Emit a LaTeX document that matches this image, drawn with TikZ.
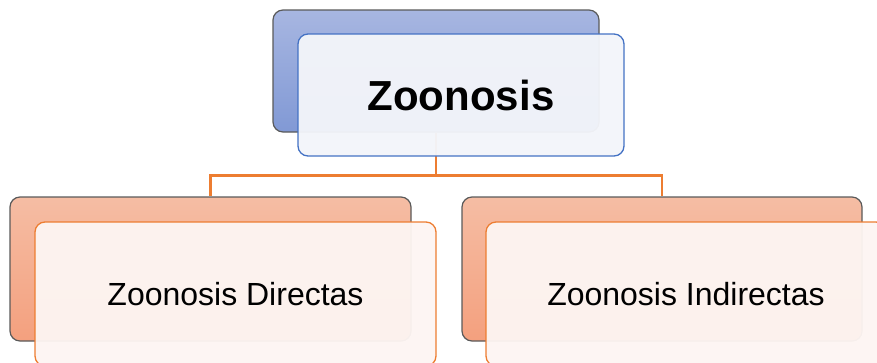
\documentclass[tikz,border=0pt]{standalone}
\usepackage{fontspec}
\setmainfont{Liberation Sans}
\usepackage{tikz}
\usepackage{xcolor}
\usetikzlibrary{positioning,shapes}

\definecolor{blueback}{HTML}{A7B6E1}
\definecolor{bluebackdark}{HTML}{8199D5}
\definecolor{blueline}{HTML}{4472C4}
\definecolor{bluefront}{HTML}{F3F5FA}
\definecolor{orangeback}{HTML}{F5BDA4}
\definecolor{orangebackdark}{HTML}{F4A07E}
\definecolor{orangeline}{HTML}{ED7D31}
\definecolor{orangefront}{HTML}{FDF5F2}
\definecolor{greyline}{HTML}{5A5A5A}

\begin{document}
\begin{tikzpicture}[x=1pt,y=-1pt]
\tikzstyle{every node}+=[inner sep=0pt]
\tikzstyle{backbox}=[rectangle,rounded corners=10pt,draw=greyline,line width=1.2pt]
\tikzstyle{frontbox}=[rectangle,rounded corners=10pt,line width=1.3pt,fill opacity=0.96,text opacity=1]
\tikzstyle{link}=[draw=orangeline,line width=2.5pt]
\useasboundingbox (0,0) rectangle (877,362);
\node [backbox,top color=blueback,bottom color=bluebackdark,minimum width=326pt,minimum height=122pt] (zoonosis-back) at (436,71) {};
\node [backbox,top color=orangeback,bottom color=orangebackdark,minimum width=401pt,minimum height=144pt] (directas-back) at (210.5,269) {};
\node [backbox,top color=orangeback,bottom color=orangebackdark,minimum width=400pt,minimum height=144pt] (indirectas-back) at (662,269) {};
\draw [link] (zoonosis-back.south) -- ++(0,43) -| (directas-back.north);
\draw [link] (zoonosis-back.south) -- ++(0,43) -| (indirectas-back.north);
\node [frontbox,draw=blueline,fill=bluefront,minimum width=326pt,minimum height=122pt,font=\fontsize{42}{50}\selectfont\bfseries] (zoonosis) at (461,95) {Zoonosis};
\node [frontbox,draw=orangeline,fill=orangefront,minimum width=401pt,minimum height=144pt,font=\fontsize{32}{38}\selectfont] (directas) at (235.5,294) {Zoonosis Directas};
\node [frontbox,draw=orangeline,fill=orangefront,minimum width=400pt,minimum height=144pt,font=\fontsize{32}{38}\selectfont] (indirectas) at (686,294) {Zoonosis Indirectas};
\end{tikzpicture}
\end{document}
